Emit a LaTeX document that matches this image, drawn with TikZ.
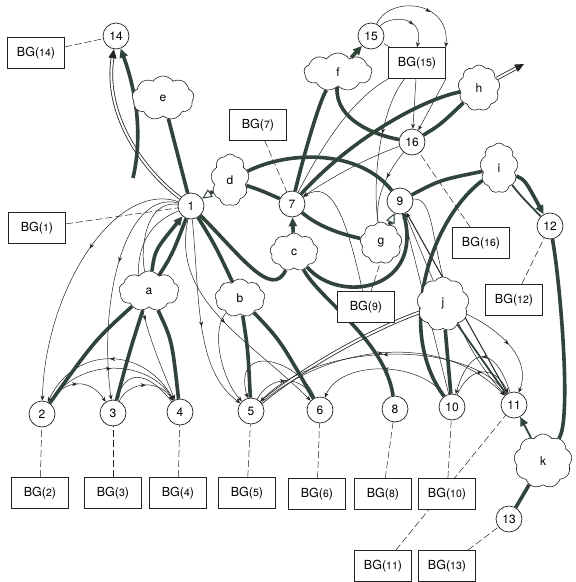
\documentclass[tikz,border=0pt]{standalone}
\usepackage{fontspec}
\setmainfont{TeX Gyre Heros}
\usetikzlibrary{shapes.symbols,arrows.meta,decorations.markings,calc}
\definecolor{thkc}{RGB}{48,68,58}
\definecolor{inkc}{RGB}{35,35,35}
\pgfdeclarelayer{backl}
\pgfdeclarelayer{bgl}
\pgfsetlayers{backl,bgl,main}
\newcommand{\bgl}[1]{BG({\fontsize{10.5}{11}\selectfont #1})}
\begin{document}
\begin{tikzpicture}[x=1pt,y=-1pt,
  cn/.style={circle,draw=inkc,line width=0.7pt,fill=white,minimum size=26pt,inner sep=0pt,font=\fontsize{12}{12}\selectfont},
  cl/.style={cloud,cloud puffs=9,cloud puff arc=110,draw=inkc,line width=0.6pt,fill=white,inner sep=0pt,font=\fontsize{12}{12}\selectfont},
  bgbox/.style={draw=inkc,line width=0.7pt,fill=white,minimum width=57pt,minimum height=31pt,inner sep=1pt,font=\fontsize{12.5}{13}\selectfont},
  thk/.style={draw=thkc,line width=3.6pt},
  medl/.style={draw=thkc,line width=1.8pt},
  thn/.style={draw=inkc,line width=0.5pt},
  dsh/.style={draw=inkc,line width=0.5pt,dash pattern=on 7pt off 3pt},
  dbl/.style={draw=inkc,line width=0.8pt,double=white,double distance=2pt},
  ma/.style={postaction={decorate},decoration={markings,mark=at position #1 with {\arrow{Stealth[length=5pt,width=4pt]}}}},
  ma/.default=0.5,
  bigt/.tip={Triangle[length=9pt,width=8pt]},
  opent/.tip={Triangle[open,fill=white,length=10pt,width=9pt,line width=1pt]},
  smt/.tip={Stealth[length=5pt,width=4pt]},
]
\useasboundingbox (0,0) rectangle (576,582);
\begin{pgfonlayer}{backl}
\fill[white] (0,0) rectangle (576,582);
\end{pgfonlayer}
% circle nodes
\node[cn] (n14) at (116,36) {14};
\node[cn] (n15) at (371,36) {15};
\node[cn] (n16) at (412,142) {16};
\node[cn] (n1) at (191,206) {1};
\node[cn] (n7) at (292,204) {7};
\node[cn] (n9) at (400,201) {9};
\node[cn] (n12) at (550,226) {12};
\node[cn] (n2) at (42,414) {2};
\node[cn] (n3) at (113,413) {3};
\node[cn] (n4) at (180,412) {4};
\node[cn] (n5) at (251,411) {5};
\node[cn] (n6) at (320,410) {6};
\node[cn] (n8) at (395,409) {8};
\node[cn] (n10) at (452,407) {10};
\node[cn] (n11) at (514,405) {11};
\node[cn] (n13) at (509,519) {13};
% clouds
\node[cl,minimum width=62pt,minimum height=44pt] (e) at (163,98) {e};
\node[cl,minimum width=38pt,minimum height=52pt] (d) at (230,180) {d};
\node[cl,minimum width=68pt,minimum height=38pt] (f) at (338,72) {f};
\node[cl,minimum width=42pt,minimum height=46pt] (h) at (479,88) {h};
\node[cl,minimum width=38pt,minimum height=50pt] (i) at (499,168) {i};
\node[cl,minimum width=48pt,minimum height=38pt] (c) at (294,252) {c};
\node[cl,minimum width=42pt,minimum height=42pt] (g) at (381,243) {g};
\node[cl,minimum width=60pt,minimum height=40pt] (a) at (149,291) {a};
\node[cl,minimum width=50pt,minimum height=38pt] (b) at (240,298) {b};
\node[cl,minimum width=52pt,minimum height=54pt] (j) at (443,304) {j};
\node[cl,minimum width=58pt,minimum height=54pt] (k) at (543,461) {k};
% BG boxes
\node[bgbox] (b14) at (36,53) {\bgl{14}};
\node[bgbox] (b1) at (37,228) {\bgl{1}};
\node[bgbox] (b7) at (258,125) {\bgl{7}};
\node[bgbox] (b15) at (417,63) {\bgl{15}};
\node[bgbox] (b16) at (481,243) {\bgl{16}};
\node[bgbox] (b12) at (514,300) {\bgl{12}};
\node[bgbox] (b9) at (366,307) {\bgl{9}};
\node[bgbox] (b2) at (40,493) {\bgl{2}};
\node[bgbox] (b3) at (113,493) {\bgl{3}};
\node[bgbox] (b4) at (178,493) {\bgl{4}};
\node[bgbox] (b5) at (247,493) {\bgl{5}};
\node[bgbox] (b6) at (317,494) {\bgl{6}};
\node[bgbox] (b8) at (383,494) {\bgl{8}};
\node[bgbox] (b10) at (447,494) {\bgl{10}};
\node[bgbox] (b11) at (383,566) {\bgl{11}};
\node[bgbox] (b13) at (447,566) {\bgl{13}};
\coordinate (stub) at (133,178);
\coordinate (hout) at (524,64);
% arrow f -> 15 above clouds
\draw[thk,-bigt] (f) -- (n15);
\begin{pgfonlayer}{bgl}
% dashed links
\draw[dsh] (b14) -- (n14);
\draw[dsh] (b1) -- (n1);
\draw[dsh] (b7) -- (n7);
\draw[dsh] (b15) -- (n15);
\draw[dsh] (b16) -- (n16);
\draw[dsh] (b12) -- (n12);
\draw[dsh] (b9) -- (n9);
\draw[dsh] (b2) -- (n2);
\draw[dsh] (b3) -- (n3);
\draw[dsh] (b4) -- (n4);
\draw[dsh] (b5) -- (n5);
\draw[dsh] (b6) -- (n6);
\draw[dsh] (b8) -- (n8);
\draw[dsh] (b10) -- (n10);
\draw[dsh] (b11) -- (n11);
\draw[dsh] (b13) -- (n13);
% thin connectors
\draw[thn,ma=0.4,-smt] (n1) .. controls (115,180) and (45,290) .. (n2);
\draw[thn,ma=0.4,-smt] (n1) .. controls (125,190) and (98,300) .. (n3);
\draw[thn,ma=0.6,-smt] (n1) .. controls (105,240) and (150,340) .. (n4);
\draw[thn] (n1) .. controls (145,200) and (140,250) .. (a);
\draw[thn,ma=0.55,-smt] (n1) .. controls (200,300) and (195,370) .. (n5);
\draw[thn,ma=0.5,-smt] (n1) .. controls (170,300) and (250,340) .. (n6);
\draw[thn,ma=0.5,-smt] (n2) .. controls (80,355) and (150,360) .. (n4);
\draw[thn,ma=0.5,-smt] (n4) .. controls (145,345) and (75,345) .. (n2);
\draw[thn,ma=0.5,-smt] (n2) .. controls (65,378) and (90,378) .. (n3);
\draw[thn,ma=0.5,-smt] (n3) .. controls (130,380) and (160,380) .. (n4);
\draw[thn,-smt] (n4) .. controls (145,368) and (125,372) .. (n3);
\draw[thn,ma=0.5,-smt] (n5) .. controls (270,375) and (300,375) .. (n6);
\draw[thn,-smt] (b) .. controls (210,330) and (222,380) .. (n5);
\draw[thn,-smt] (n6) .. controls (300,360) and (232,340) .. (n5);
\draw[dbl] (n5) .. controls (300,370) and (370,330) .. (j);
\draw[thn,ma=0.5,-smt] (n11) .. controls (470,340) and (320,340) .. (n5);
\draw[thn,ma=0.5,-smt] (n10) .. controls (420,360) and (340,360) .. (n6);
\draw[thn,ma=0.5,-smt] (n5) .. controls (330,345) and (440,330) .. (n11);
\draw[thn,ma=0.5,-smt] (n10) .. controls (470,365) and (495,365) .. (n11);
\draw[thn,ma=0.5,-smt] (n11) .. controls (495,345) and (470,345) .. (n10);
\draw[thn,ma=0.5,-smt] (j) .. controls (480,320) and (535,350) .. (n11);
\draw[thn,ma=0.6,-smt] (n9) .. controls (445,195) and (420,300) .. (n11);
\draw[thn,-smt] (n10) -- (n9);
\draw[thn,-smt] (j) -- (n9);
\draw[draw=inkc,line width=1pt,-smt] (n11) -- (n9);
\draw[thn,-smt] (n16) .. controls (360,160) and (320,185) .. (n7);
\draw[thn,ma=0.4] (b15) .. controls (380,110) and (372,180) .. (g);
\draw[thn,ma=0.4] (n16) .. controls (385,175) and (375,200) .. (g);
\draw[thn] (b15) .. controls (350,100) and (320,150) .. (n7);
\draw[thn,ma=0.6,-smt] (n15) .. controls (390,-5) and (450,0) .. (b15.north east);
\draw[thn,ma=0.6,-smt] (n15) .. controls (390,15) and (425,15) .. (b15.north);
\draw[thn,-smt] (b15) -- (n16);
\draw[thn,-smt] (b15.south east) -- (n16);
\draw[thn,smt-] (n7) .. controls (330,180) and (345,210) .. (b9);
% thick connectors
\draw[dbl,-bigt] (n1) .. controls (140,168) and (104,112) .. (n14);
\draw[thk,-bigt] (stub) .. controls (144,130) and (134,85) .. (n14);
\draw[thk] (e) -- (n1);
\draw[thk,-opent] (d) -- (n1);
\draw[thk] (d) .. controls (290,150) and (360,150) .. (n9);
\draw[thk] (d) .. controls (260,190) .. (n7);
\draw[thk] (n7) .. controls (305,150) and (320,100) .. (f);
\draw[thk] (n7) .. controls (350,140) and (420,100) .. (h);
\draw[dbl,-bigt] (h) -- (hout);
\draw[thk] (f) .. controls (335,120) and (375,135) .. (n16);
\draw[thk] (n16) .. controls (440,125) .. (h);
\draw[thk] (n7) .. controls (320,228) and (345,235) .. (g);
\draw[thk,-opent] (g) -- (n9);
\draw[thk,-bigt] (c) -- (n7);
\draw[thk] (n9) .. controls (440,180) .. (i);
\draw[thk,-bigt] (i) .. controls (525,180) .. (n12);
\draw[medl] (i) .. controls (520,195) .. (n12);
\draw[thk] (n12) .. controls (560,280) and (572,420) .. (k);
\draw[medl,-bigt] (k) -- (n11);
\draw[thk] (n13) -- (k);
\draw[thk,-bigt] (a) .. controls (155,250) .. (n1);
\draw[thk] (a) .. controls (172,255) .. (n1);
\draw[thk] (a) .. controls (95,340) .. (n2);
\draw[thk] (a) .. controls (130,350) .. (n3);
\draw[thk] (a) .. controls (172,340) .. (n4);
\draw[thk] (n1) .. controls (215,245) .. (b);
\draw[thk] (b) .. controls (248,350) .. (n5);
\draw[thk] (b) .. controls (280,340) .. (n6);
\draw[thk] (n1) .. controls (240,255) and (272,300) .. (c);
\draw[thk] (n9) .. controls (425,290) and (340,305) .. (c);
\draw[thk] (c) .. controls (320,300) and (385,340) .. (n8);
\draw[thk] (i) .. controls (430,220) and (395,330) .. (n10);
\draw[thk] (j) -- (n10);
\draw[medl] (j) -- (n11);
\end{pgfonlayer}
\end{tikzpicture}
\end{document}
